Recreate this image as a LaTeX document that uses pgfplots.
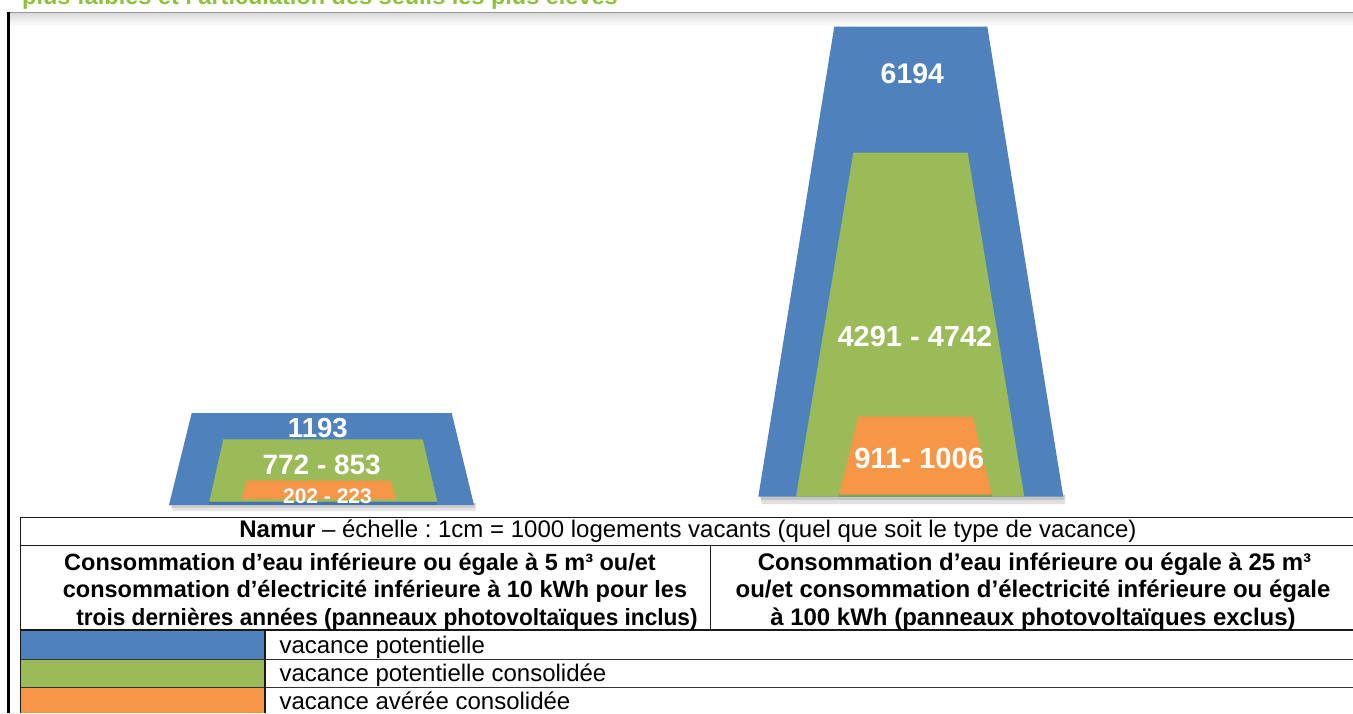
\documentclass[border=0pt]{standalone}
\usepackage{fontspec}
\setmainfont{Liberation Sans}
\usepackage{pgfplots}
\pgfplotsset{compat=1.18}
\definecolor{cblue}{HTML}{4F81BD}
\definecolor{cgreen}{HTML}{9BBB59}
\definecolor{corange}{HTML}{F79646}
\definecolor{ctitle}{HTML}{8FC13E}
\newcommand\fs[1]{\fontsize{#1}{#1}\selectfont}
\frenchspacing
\begin{document}
\begin{tikzpicture}
\useasboundingbox (0,0) rectangle (1353pt,713pt);
\clip (0,0) rectangle (1353pt,713pt);
\begin{axis}[at={(0,0)}, anchor=south west, scale only axis,
  width=1353pt, height=713pt, xmin=0, xmax=1353, ymin=0, ymax=713,
  y dir=reverse, hide axis, clip=false]
% top rule with shadow
\addplot[draw=none, top color=black!14, bottom color=white] coordinates {(9,13.5) (1353,13.5) (1353,26) (9,26)} -- cycle;
\addplot[draw=black!40, line width=1.5pt] coordinates {(8,12.5) (1353,12.5)};
\addplot[draw=black, line width=2.4pt] coordinates {(8.5,11.5) (8.5,713)};
% shadows of shapes
\addplot[draw=none, fill=black, fill opacity=0.10] coordinates {(171,503) (476,503) (476,511) (173,511)} -- cycle;
\addplot[draw=none, fill=black, fill opacity=0.10] coordinates {(171,503) (476,503) (475,508) (172,508)} -- cycle;
\addplot[draw=none, fill=black, fill opacity=0.12] coordinates {(760,495) (1065,495) (1065,504) (762,504)} -- cycle;
\addplot[draw=none, fill=black, fill opacity=0.12] coordinates {(760,495) (1065,495) (1064,500) (761,500)} -- cycle;
% left shape (seuils bas)
\addplot[draw=none, fill=cblue] coordinates {(191.7,413) (451.7,413) (474,505) (169,505)} -- cycle;
\addplot[draw=none, fill=black, fill opacity=0.10] coordinates {(209.3,501.7) (437.3,501.7) (437.3,505) (209.3,505)} -- cycle;
\addplot[draw=none, fill=cgreen] coordinates {(223.3,439.3) (422.7,439.3) (437.3,501.7) (209.3,501.7)} -- cycle;
\addplot[draw=none, fill=corange] coordinates {(246.7,480.7) (390.7,480.7) (395.7,499) (241.7,499)} -- cycle;
% right shape (seuils hauts)
\addplot[draw=none, fill=cblue] coordinates {(834.3,26.5) (987.3,26.5) (1063.3,496.7) (758.3,496.7)} -- cycle;
\addplot[draw=none, fill=cgreen] coordinates {(853.3,152.7) (967.7,152.7) (1024.3,496.7) (796,496.7)} -- cycle;
\addplot[draw=none, fill=black, fill opacity=0.12] coordinates {(839.3,494.3) (991.7,494.3) (991.7,497) (839.3,497)} -- cycle;
\addplot[draw=none, fill=corange] coordinates {(858.3,416.7) (972.7,416.7) (991.7,494.3) (839.3,494.3)} -- cycle;
% value labels
\node[anchor=base, inner sep=0, text=white, font=\fs{27.5}\bfseries] at (317.8,437.7) {1193};
\node[anchor=base, inner sep=0, text=white, font=\fs{28}\bfseries] at (321.7,474) {772 - 853};
\node[anchor=base, inner sep=0, text=white, font=\fs{21}\bfseries] at (327.5,503.3) {202 - 223};
\node[anchor=base, inner sep=0, text=white, font=\fs{28.4}\bfseries] at (912.3,83.3) {6194};
\node[anchor=base, inner sep=0, text=white, font=\fs{29}\bfseries] at (915,346) {4291 - 4742};
\node[anchor=base, inner sep=0, text=white, font=\fs{29.2}\bfseries] at (919.2,468.3) {911- 1006};
% title (cut off)
\node[anchor=base west, inner sep=0, text=ctitle, font=\fs{23.5}\bfseries] at (22,4.5) {plus faibles et l’articulation des seuils les plus élevés};
% legend colour cells
\addplot[draw=none, fill=cblue] coordinates {(20.7,630) (265,630) (265,659.3) (20.7,659.3)} -- cycle;
\addplot[draw=none, fill=cgreen] coordinates {(20.7,659.3) (265,659.3) (265,687.7) (20.7,687.7)} -- cycle;
\addplot[draw=none, fill=corange] coordinates {(20.7,687.7) (265,687.7) (265,713) (20.7,713)} -- cycle;
% table rules
\addplot[draw=black!90, line width=1.3pt] coordinates {(20.7,517.7) (1353,517.7)};
\addplot[draw=black!90, line width=1.3pt] coordinates {(20.7,545.7) (1353,545.7)};
\addplot[draw=black!90, line width=1.3pt] coordinates {(20.7,630) (1353,630)};
\addplot[draw=black!80, line width=1.3pt] coordinates {(20.7,659.3) (1353,659.3)};
\addplot[draw=black!80, line width=1.3pt] coordinates {(20.7,687.7) (1353,687.7)};
\addplot[draw=black!90, line width=1.3pt] coordinates {(20.7,517) (20.7,713)};
\addplot[draw=black!90, line width=1.3pt] coordinates {(710.7,545.7) (710.7,630)};
\addplot[draw=black!90, line width=1.3pt] coordinates {(265,630) (265,713)};
% table text
\node[anchor=base, inner sep=0, font=\fs{24}] at (688,537.5) {\textbf{Namur} – échelle : 1cm = 1000 logements vacants (quel que soit le type de vacance)};
\node[anchor=base, inner sep=0, font=\fs{23.5}\bfseries] at (360,570) {Consommation d’eau inférieure ou égale à 5 m³ ou/et};
\node[anchor=base, inner sep=0, font=\fs{23.5}\bfseries] at (375,597.5) {consommation d’électricité inférieure à 10 kWh pour les};
\node[anchor=base, inner sep=0, font=\fs{23.5}\bfseries] at (387,625) {\scalebox{0.963}[1]{trois dernières années (panneaux photovoltaïques inclus)}};
\node[anchor=base, inner sep=0, font=\fs{24}\bfseries] at (1034.5,570) {Consommation d’eau inférieure ou égale à 25 m³};
\node[anchor=base, inner sep=0, font=\fs{24}\bfseries] at (1033,597.5) {ou/et consommation d’électricité inférieure ou égale};
\node[anchor=base, inner sep=0, font=\fs{24}\bfseries] at (1033,625) {à 100 kWh (panneaux photovoltaïques exclus)};
\node[anchor=base west, inner sep=0, font=\fs{24}] at (279.3,653.3) {vacance potentielle};
\node[anchor=base west, inner sep=0, font=\fs{24}] at (279.3,681.7) {vacance potentielle consolidée};
\node[anchor=base west, inner sep=0, font=\fs{24}] at (279.3,709.5) {vacance avérée consolidée};
\end{axis}
\end{tikzpicture}
\end{document}
